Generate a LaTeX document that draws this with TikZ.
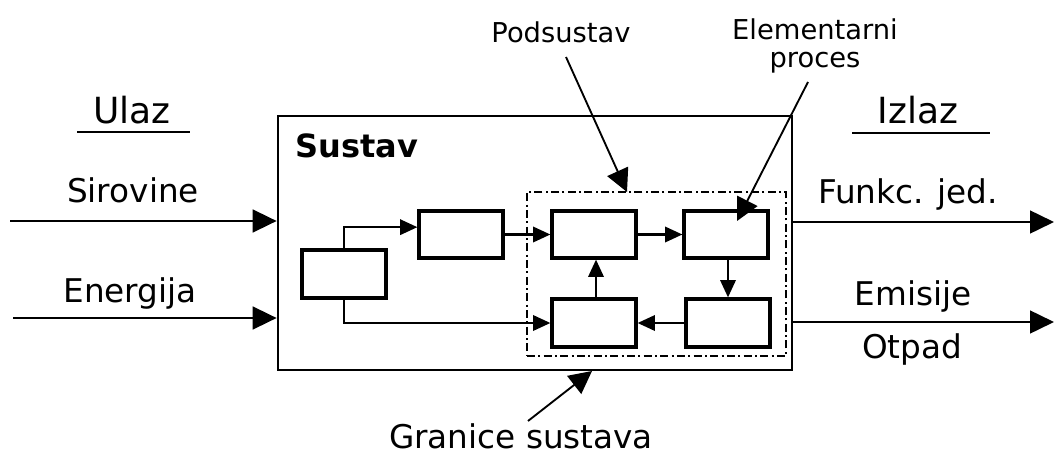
\documentclass[tikz,border=0pt]{standalone}
\usepackage{fontspec}
\setmainfont{DejaVu Sans}
\usetikzlibrary{arrows.meta,fit,calc}
\begin{document}
\begin{tikzpicture}[x=0.75pt,y=-0.75pt,
  lbl/.style={font=\fontsize{24.5}{29}\selectfont, inner sep=0, anchor=base},
  head/.style={font=\fontsize{27}{31}\selectfont, inner sep=0, anchor=base},
  note/.style={font=\fontsize{20.5}{22}\selectfont, inner sep=0},
  box/.style={draw, line width=2.4pt, inner sep=0},
  sysbox/.style={draw, line width=2pt, inner sep=0},
  subbox/.style={draw, line width=2pt, inner sep=0,
    dash pattern=on 6pt off 2.5pt on 1.5pt off 2.5pt},
  flow/.style={line width=2pt, -{Triangle[length=18pt,width=17pt]}},
  link/.style={line width=1.8pt, -{Triangle[length=13pt,width=11.5pt]}},
  callout/.style={line width=1.4pt, -{Triangle[length=17pt,width=17pt]}},
  uline/.style={line width=1.6pt}]
\useasboundingbox (0,0) rectangle (1055,456);

% system and subsystem frames
\node[sysbox, fit={(278,116) (792,370)}] (sys) {};
\node[subbox, fit={(527,192) (786,356)}] (sub) {};
\node[anchor=base west, inner sep=0, font=\fontsize{24}{28}\selectfont\bfseries] (systxt) at (295,157) {Sustav};

% process boxes
\node[box, fit={(302,250) (386,298)}] (L) {};
\node[box, fit={(419,211) (503,258)}] (A) {};
\node[box, fit={(552,211) (636,258)}] (B) {};
\node[box, fit={(684,211) (768,258)}] (C) {};
\node[box, fit={(552,299) (636,347)}] (D) {};
\node[box, fit={(686,299) (770,347)}] (E) {};

% internal connectors
\draw[link] (L.north) |- ([yshift=5.5pt]A.west);
\draw[link] (A.east) -- (A.east -| B.west);
\draw[link] (B.east) -- (B.east -| C.west);
\draw[link] ([xshift=1.5pt]C.south) -- ([xshift=1.5pt]C.south |- E.north);
\draw[link] (E.west) -- (E.west -| D.east);
\draw[link] ([xshift=1.5pt]D.north) -- ([xshift=1.5pt]D.north |- B.south);
\draw[link] (L.south) |- (D.west);

% inputs
\node[head] (ulaz) at (132,123) {Ulaz};
\draw[uline] (77,132) -- (190,132);
\node[lbl] (sir) at (133,202) {Sirovine};
\node[lbl] (ene) at (130,302) {Energija};
\coordinate (in1) at (10,221);
\coordinate (in2) at (13,318);
\draw[flow] (in1) -- (in1 -| sys.west);
\draw[flow] (in2) -- (in2 -| sys.west);

% outputs
\node[head] (izlaz) at (918,123) {Izlaz};
\draw[uline] (852,133) -- (990,133);
\node[lbl] (fun) at (908,203) {Funkc. jed.};
\node[lbl] (emi) at (913,305) {Emisije};
\node[lbl] (otp) at (912,358) {Otpad};
\coordinate (out1) at (1054,222);
\coordinate (out2) at (1054,322);
\draw[flow] (out1 -| sys.east) -- (out1);
\draw[flow] (out2 -| sys.east) -- (out2);

% callouts
\node[note, anchor=base] (pod) at (561,43) {Podsustav};
\node[note, align=center] (elem) at (815,46) {Elementarni\\[-1pt]proces};
\node[lbl] (gran) at (521,448) {Granice sustava};
\coordinate (podtail) at (566,57);
\coordinate (podtip) at (627,192);
\coordinate (eltail) at (808,82);
\coordinate (eltip) at (737,221);
\coordinate (grtail) at (528,421);
\coordinate (grtip) at (592,371);
\draw[callout] (podtail) -- (podtip);
\draw[callout] (eltail) -- (eltip);
\draw[callout] (grtail) -- (grtip);
\end{tikzpicture}
\end{document}
